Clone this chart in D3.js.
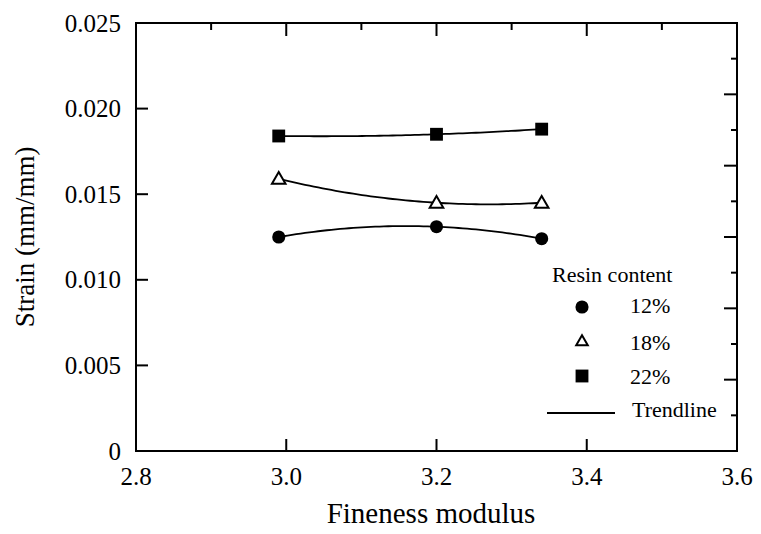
<!DOCTYPE html>
<html>
<head>
<meta charset="utf-8">
<script src="https://cdn.jsdelivr.net/npm/d3@7"></script>
<style>
  body { margin: 0; background: #fff; }
  text { font-family: "Liberation Serif", "Times New Roman", serif; fill: #000; }
</style>
</head>
<body>
<div id="chart"></div>
<script>
// data
const fineness = [2.99, 3.2, 3.34];
const strain12 = [0.0125, 0.0131, 0.0124];
const strain18 = [0.0159, 0.0145, 0.0145];
const strain22 = [0.0184, 0.0185, 0.0188];
const seriesNames = ["12%", "18%", "22%"];
const xTicks = [2.8, 3.0, 3.2, 3.4, 3.6];
const xMinorTicks = [2.9, 3.1, 3.3, 3.5];
const yTicks = [0, 0.005, 0.010, 0.015, 0.020, 0.025];

const W = 761, H = 534;
const pL = 136, pT = 23, pR = 737, pB = 451;

const svg = d3.select("#chart").append("svg").attr("width", W).attr("height", H);

const x = d3.scaleLinear().domain([2.8, 3.6]).range([pL, pR]);
const y = d3.scaleLinear().domain([0, 0.025]).range([pB, pT]);
// right axis has its own 12 divisions in the original
const yR = d3.scaleLinear().domain([0, 12]).range([pB, pT]);

// frame
svg.append("rect")
  .attr("x", pL).attr("y", pT)
  .attr("width", pR - pL).attr("height", pB - pT)
  .attr("fill", "none").attr("stroke", "#000").attr("stroke-width", 2);

// left ticks + labels
yTicks.forEach(v => {
  if (v > 0 && v < 0.025) {
    svg.append("line").attr("x1", pL).attr("x2", pL + 12)
      .attr("y1", y(v)).attr("y2", y(v)).attr("stroke", "#000").attr("stroke-width", 2);
  }
  svg.append("text").attr("x", 121).attr("y", y(v)).attr("dy", "0.34em")
    .attr("text-anchor", "end").style("font-size", "25px")
    .text(v === 0 ? "0" : d3.format(".3f")(v));
});

// right ticks
d3.range(1, 12).forEach(i => {
  const len = i % 2 === 0 ? 13 : 6;
  svg.append("line").attr("x1", pR).attr("x2", pR - len)
    .attr("y1", yR(i)).attr("y2", yR(i)).attr("stroke", "#000").attr("stroke-width", 2);
});

// bottom ticks + labels
xTicks.forEach(v => {
  if (v > 2.8 && v < 3.6) {
    svg.append("line").attr("x1", x(v)).attr("x2", x(v))
      .attr("y1", pB).attr("y2", pB - 12).attr("stroke", "#000").attr("stroke-width", 2);
    svg.append("line").attr("x1", x(v)).attr("x2", x(v))
      .attr("y1", pT).attr("y2", pT + 13).attr("stroke", "#000").attr("stroke-width", 2);
  }
  svg.append("text").attr("x", x(v)).attr("y", 485)
    .attr("text-anchor", "middle").style("font-size", "25px")
    .text(d3.format(".1f")(v));
});
xMinorTicks.forEach(v => {
  svg.append("line").attr("x1", x(v)).attr("x2", x(v))
    .attr("y1", pT).attr("y2", pT + 7).attr("stroke", "#000").attr("stroke-width", 2);
});

// axis titles
svg.append("text").attr("x", 431).attr("y", 523)
  .attr("text-anchor", "middle").style("font-size", "29px").text("Fineness modulus");
svg.append("text")
  .attr("transform", `translate(34,${(pT + pB) / 2}) rotate(-90)`)
  .attr("text-anchor", "middle").style("font-size", "27px").text("Strain (mm/mm)");

// quadratic trendline through the three points
function quadTrend(xs, ys) {
  const [x0, x1, x2] = xs, [y0, y1, y2] = ys;
  const f = t => y0 * (t - x1) * (t - x2) / ((x0 - x1) * (x0 - x2))
               + y1 * (t - x0) * (t - x2) / ((x1 - x0) * (x1 - x2))
               + y2 * (t - x0) * (t - x1) / ((x2 - x0) * (x2 - x1));
  const n = 60;
  return d3.range(n + 1).map(i => {
    const t = x0 + (x2 - x0) * i / n;
    return [t, f(t)];
  });
}
const line = d3.line().x(d => x(d[0])).y(d => y(d[1]));

const allSeries = [strain12, strain18, strain22];
allSeries.forEach(vals => {
  svg.append("path").attr("d", line(quadTrend(fineness, vals)))
    .attr("fill", "none").attr("stroke", "#000").attr("stroke-width", 1.8);
});

// markers
const symCircle = d3.symbol().type(d3.symbolCircle).size(135);
const symTri = d3.symbol().type(d3.symbolTriangle).size(80);
const symSquare = d3.symbol().type(d3.symbolSquare).size(165);

function drawMarker(g, k, cx, cy, scale) {
  const s = scale || 1;
  if (k === 0) {
    g.append("path").attr("d", symCircle()).attr("transform", `translate(${cx},${cy}) scale(${s})`)
      .attr("fill", "#000");
  } else if (k === 1) {
    g.append("path").attr("d", symTri()).attr("transform", `translate(${cx},${cy + 1}) scale(${s})`)
      .attr("fill", "#fff").attr("stroke", "#000").attr("stroke-width", 2 / s);
  } else {
    g.append("path").attr("d", symSquare()).attr("transform", `translate(${cx},${cy}) scale(${s})`)
      .attr("fill", "#000");
  }
}

allSeries.forEach((vals, k) => {
  vals.forEach((v, i) => drawMarker(svg, k, x(fineness[i]), y(v)));
});

// legend
svg.append("text").attr("x", 552).attr("y", 282).style("font-size", "22px").text("Resin content");
const legY = [307, 341, 376];
const legBase = [313, 350, 384];
seriesNames.forEach((name, k) => {
  drawMarker(svg, k, 582, legY[k], k === 1 ? 0.85 : 1);
  svg.append("text").attr("x", 630).attr("y", legBase[k]).style("font-size", "22px").text(name);
});
svg.append("line").attr("x1", 547).attr("x2", 615).attr("y1", 413).attr("y2", 413)
  .attr("stroke", "#000").attr("stroke-width", 1.8);
svg.append("text").attr("x", 632).attr("y", 417).style("font-size", "22px").text("Trendline");
</script>
</body>
</html>
